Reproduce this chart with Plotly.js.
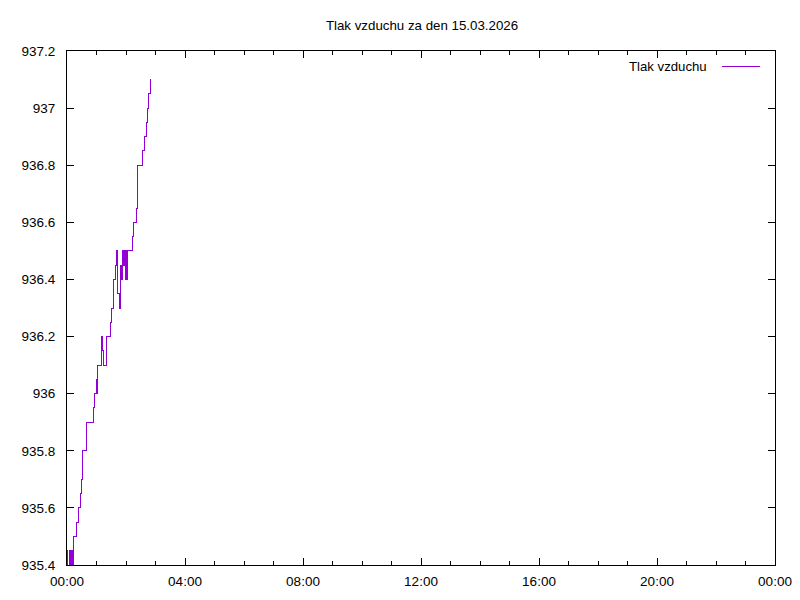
<!DOCTYPE html>
<html>
<head>
<meta charset="utf-8">
<script src="https://cdn.plot.ly/plotly-3.0.1.min.js"></script>
<style>html,body{margin:0;padding:0;background:#fff;}#chart{width:800px;height:600px;}
#chart .scatterlayer path, #chart .layer-above path{shape-rendering:crispEdges;}</style>
</head>
<body>
<div id="chart"></div>
<script>
const day = "2026-03-15";
const nextDay = "2026-03-16";
const seriesName = "Tlak vzduchu";
const chartTitle = "Tlak vzduchu za den 15.03.2026";
const times = ["00:00","00:02","00:06","00:08","00:10","00:12","00:14","00:20","00:23","00:27",
  "00:29","00:32","00:39","00:54","00:56","00:59","01:01","01:03","01:11","01:13",
  "01:15","01:20","01:28","01:30","01:35","01:38","01:40","01:42","01:43","01:46",
  "01:48","01:50","01:53","01:55","01:57","01:59","02:01","02:02","02:04","02:14",
  "02:16","02:21","02:23","02:24","02:34","02:37","02:42","02:44","02:46","02:49","02:51"];
const pressure = [935.45,935.40,935.45,935.40,935.45,935.40,935.50,935.55,935.60,935.65,
  935.70,935.80,935.90,935.95,936.00,936.05,936.00,936.10,936.20,936.15,
  936.10,936.20,936.25,936.30,936.40,936.45,936.50,936.40,936.35,936.30,
  936.45,936.40,936.50,936.45,936.50,936.40,936.50,936.40,936.50,936.55,
  936.60,936.65,936.70,936.80,936.85,936.90,936.95,937.00,937.05,937.10,937.10];
const yTickVals = [935.4,935.6,935.8,936,936.2,936.4,936.6,936.8,937,937.2];
const yTickText = ["935.4","935.6","935.8","936","936.2","936.4","936.6","936.8","937","937.2"];

const xs = times.map(t => day + " " + t);
const font = {family: "Liberation Sans, Arial, sans-serif", size: 13.5, color: "#000"};

const trace = {
  x: xs, y: pressure, type: "scatter", mode: "lines", name: seriesName,
  line: {color: "#9400D3", width: 1, shape: "hv"}, showlegend: false, hoverinfo: "x+y"
};

const layout = {
  width: 800, height: 600,
  margin: {l: 67, r: 25, t: 51, b: 35, pad: 0},
  paper_bgcolor: "#fff", plot_bgcolor: "#fff",
  font: font,
  title: {text: chartTitle, font: {family: font.family, size: 13.3, color: "#000"},
    x: 0.5275, xanchor: "center", xref: "container", y: 1 - 25.5/600, yref: "container", yanchor: "middle"},
  xaxis: {
    type: "date", range: [day + " 00:00", nextDay + " 00:00"],
    tickformat: "%H:%M", dtick: 4*3600*1000, tick0: day + " 00:00",
    ticks: "inside", ticklen: 7, tickwidth: 1, tickcolor: "#000",
    minor: {dtick: 3600*1000, ticks: "inside", ticklen: 4, tickwidth: 1, tickcolor: "#000", showgrid: false},
    showline: true, linecolor: "#000", linewidth: 1, mirror: "ticks",
    showgrid: false, zeroline: false, tickfont: font, ticklabelstandoff: 4, fixedrange: true
  },
  yaxis: {
    range: [935.4, 937.2], tickvals: yTickVals, ticktext: yTickText,
    ticks: "inside", ticklen: 7, tickwidth: 1, tickcolor: "#000",
    showline: true, linecolor: "#000", linewidth: 1, mirror: "ticks",
    showgrid: false, zeroline: false, tickfont: font, ticklabelstandoff: 8, fixedrange: true
  },
  annotations: [{
    text: seriesName, xref: "paper", yref: "paper", x: (709-67)/708, y: (565-66)/514,
    xanchor: "right", yanchor: "middle", showarrow: false, font: {family: font.family, size: 13.2, color: "#000"}
  }],
  shapes: [{
    type: "line", xref: "paper", yref: "paper", x0: (722-67)/708, x1: (760-67)/708,
    y0: (565-66)/514, y1: (565-66)/514, line: {color: "#9400D3", width: 1}
  }]
};

Plotly.newPlot("chart", [trace], layout, {staticPlot: true, displayModeBar: false});
</script>
</body>
</html>
